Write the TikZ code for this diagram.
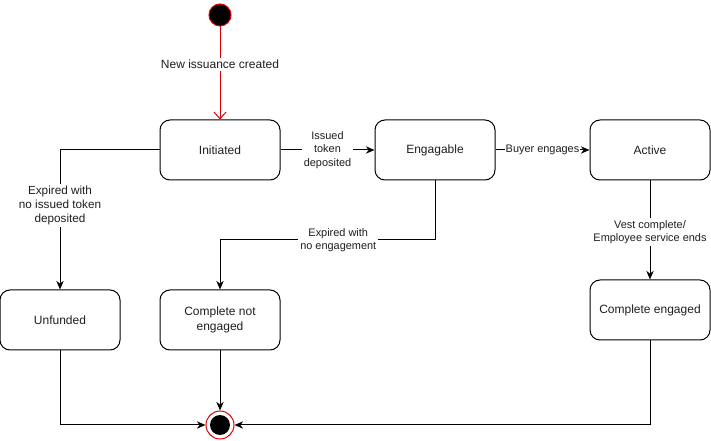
\documentclass[tikz,border=0pt]{standalone}
\usepackage{fontspec}
\setmainfont{Liberation Sans}
\usetikzlibrary{arrows.meta}
\definecolor{startred}{RGB}{220,0,0}
\definecolor{txt}{RGB}{30,30,30}
\begin{document}
\begin{tikzpicture}[x=0.75pt,y=-0.75pt,
  state/.style={draw=black,line width=0.75pt,rounded corners=7.5pt,minimum width=90pt,minimum height=45pt,inner sep=0pt,align=center,font=\fontsize{9}{11}\selectfont,text=txt},
  lbl/.style={fill=white,inner sep=1.5pt,align=center,font=\fontsize{8.2}{10}\selectfont,text=txt},
  conn/.style={draw=black,line width=0.75pt,-{Stealth[length=6.5pt,width=5.5pt]}},
  plain/.style={draw=black,line width=0.75pt}]
\useasboundingbox (0,0) rectangle (711,441);
\node[circle,draw=startred,fill=black,line width=0.75pt,minimum size=16.5pt,inner sep=0pt] (start) at (220,15) {};
\node[state] (init) at (220,150) {Initiated};
\node[state] (eng) at (435,150) {Engagable};
\node[state] (act) at (650,150) {Active};
\node[state] (unf) at (60,320) {Unfunded};
\node[state] (cne) at (220,320) {Complete not\\engaged};
\node[state] (ce) at (650,310) {Complete engaged};
\node[circle,draw=startred,line width=0.75pt,minimum size=21pt,inner sep=0pt] (end) at (220,425) {};
\node[circle,fill=black,minimum size=15pt,inner sep=0pt] at (end) {};
\coordinate (c1) at (60,150);
\coordinate (c2) at (435,240);
\coordinate (c3) at (220,240);
\coordinate (c4) at (60,425);
\coordinate (c5) at (650,425);
\draw[startred,line width=0.75pt,-{Straight Barb[length=5pt,width=9pt]}] (start) -- node[lbl,pos=0.41,font=\fontsize{9}{11}\selectfont]{New issuance created} (init);
\draw[conn] (init) -- node[lbl]{Issued\\token\\deposited} (eng);
\draw[conn] (eng) -- node[lbl,inner sep=0.5pt]{Buyer engages} (act);
\draw[conn] (init.west) -- (c1) -- node[lbl,pos=0.4,font=\fontsize{8.8}{10.5}\selectfont]{Expired with\\no issued token\\deposited} (unf.north);
\draw[conn] (eng.south) -- (c2) -- node[lbl,pos=0.45]{Expired with\\no engagement} (c3) -- (cne.north);
\draw[conn] (act) -- node[lbl,pos=0.52]{Vest complete/\\Employee service ends} (ce);
\draw[conn] (cne) -- (end);
\draw[conn] (unf.south) -- (c4) -- (end.west);
\draw[conn] (ce.south) -- (c5) -- (end.east);
\end{tikzpicture}
\end{document}
